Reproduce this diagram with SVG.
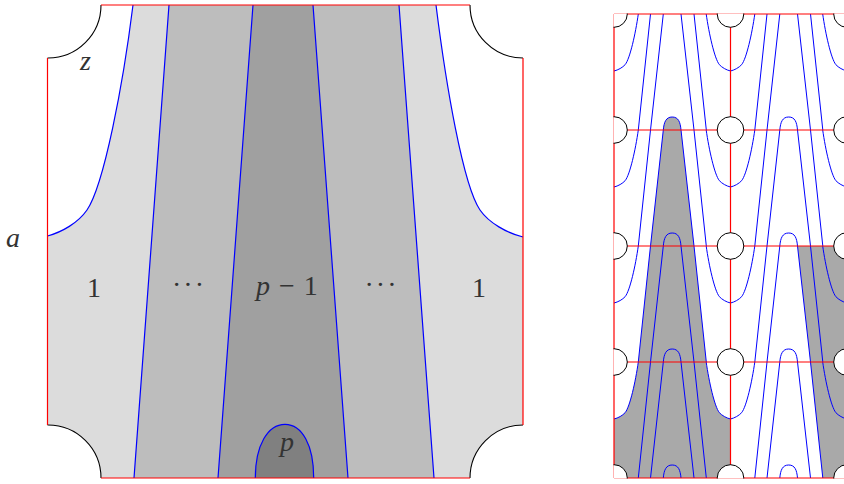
<svg xmlns="http://www.w3.org/2000/svg" xmlns:xlink="http://www.w3.org/1999/xlink" width="844" height="484" viewBox="0 0 844 484">
<style>
.r{fill:none;stroke:#ff0000;stroke-width:1.2}
.b{fill:none;stroke:#0000ff;stroke-width:1.2}
.k{fill:none;stroke:#000;stroke-width:1.1}
.t{font-family:"Liberation Serif",serif;font-size:28px;fill:#333}
.i{font-style:italic}
.c{fill:#fff;stroke:#000;stroke-width:1}
.s{fill:#a9a9a9}
.thin path{fill:none;stroke:#0000ff;stroke-width:1}
</style>
<defs>
<clipPath id="grid"><rect x="613.5" y="13.5" width="234" height="465"/></clipPath>
<g id="cell" class="thin">
<path d="M24.3 0C21.5 19.7 16 44.4 11.2 50.6C8.5 53.6 4.1 56 0 57"/>
<path d="M36.5 0L24.3 116M49.3 0L36.5 116M67 0L80 116M80 0L92.3 116"/>
<path d="M49.3 116C50 108 52 103 58.2 103S66.3 108 67 116"/>
<path d="M92.2 0C95 19.7 100.5 44.4 105.3 50.6C108 53.6 112.4 56 116.5 57"/>
</g>
</defs>
<g id="left-panel">
<path fill="#dcdcdc" d="M133 5C123 85 104 185 87 210C78 223 62 232 47.5 236L47.5 425A53 53 0 0 1 101 478L470 478A53 53 0 0 1 523 425L523 237C507 233 489 223 480 210C463 185 446 85 436 5Z"/>
<path fill="#bdbdbd" d="M169 5L399 5L434 478L134 478Z"/>
<path fill="#a0a0a0" d="M253 5L313 5L348 478L218 478Z"/>
<path fill="#808080" d="M255.3 478C255.3 445 268 424.3 285 424.3C302 424.3 313.7 445 313.7 478Z"/>
<path class="b" d="M133 5C123 85 104 185 87 210C78 223 62 232 47.5 236"/>
<path class="b" d="M436 5C446 85 463 185 480 210C489 223 507 233 523 237"/>
<path class="b" d="M169 5L134 478M253 5L218 478M313 5L348 478M399 5L434 478"/>
<path class="b" stroke-width="1.4" d="M255.3 478C255.3 445 268 424.3 285 424.3C302 424.3 313.7 445 313.7 478"/>
<path class="k" d="M101 5A53 53 0 0 1 47.5 58M470 5A53 53 0 0 0 523 58M47.5 425A53 53 0 0 1 101 478M470 478A53 53 0 0 1 523 425"/>
<path class="r" d="M101 5L470 5M47.5 58L47.5 425M523 58L523 425M101 478L470 478"/>
<text class="t i" x="80" y="70">z</text>
<text class="t i" x="6" y="246.5">a</text>
<text class="t" x="94" y="297" text-anchor="middle">1</text>
<text class="t" x="479" y="297" text-anchor="middle">1</text>
<text class="t" x="172" y="294" letter-spacing="2">···</text>
<text class="t" x="364.5" y="294" letter-spacing="2">···</text>
<text class="t" x="256" y="295" word-spacing="2"><tspan class="i">p</tspan> − 1</text>
<text class="t i" x="287" y="451" text-anchor="middle">p</text>
</g>
<g id="right-panel">
<path class="s" d="M663.3 130C664 122 666 117 672.2 117S680.3 122 681 130L694 246L706.3 362L638.3 362L650.5 246Z"/>
<path class="s" d="M638.3 362C635.5 381.7 630 406.4 625.2 412.6C622.5 415.6 618.1 418 614 419L614 478L730.5 478L730.5 419C726.4 418 722 415.6 719.3 412.6C714.5 406.4 709 381.7 706.2 362Z"/>
<path class="s" d="M797.5 246L847 246L847 478L822.8 478L810.5 362Z"/>
<use xlink:href="#cell" href="#cell" x="614" y="14"/>
<use xlink:href="#cell" href="#cell" x="614" y="130"/>
<use xlink:href="#cell" href="#cell" x="614" y="246"/>
<use xlink:href="#cell" href="#cell" x="614" y="362"/>
<use xlink:href="#cell" href="#cell" x="730.5" y="14"/>
<use xlink:href="#cell" href="#cell" x="730.5" y="130"/>
<use xlink:href="#cell" href="#cell" x="730.5" y="246"/>
<use xlink:href="#cell" href="#cell" x="730.5" y="362"/>
<path class="r" d="M614 14H847M614 130H847M614 246H847M614 362H847M614 478H847M614 14V478M730.5 14V478"/>
<g clip-path="url(#grid)">
<circle class="c" cx="614" cy="14" r="13.3"/><circle class="c" cx="730.5" cy="14" r="13.3"/><circle class="c" cx="847" cy="14" r="13.3"/>
<circle class="c" cx="614" cy="130" r="13.3"/><circle class="c" cx="730.5" cy="130" r="13.3"/><circle class="c" cx="847" cy="130" r="13.3"/>
<circle class="c" cx="614" cy="246" r="13.3"/><circle class="c" cx="730.5" cy="246" r="13.3"/><circle class="c" cx="847" cy="246" r="13.3"/>
<circle class="c" cx="614" cy="362" r="13.3"/><circle class="c" cx="730.5" cy="362" r="13.3"/><circle class="c" cx="847" cy="362" r="13.3"/>
<circle class="c" cx="614" cy="478" r="13.3"/><circle class="c" cx="730.5" cy="478" r="13.3"/><circle class="c" cx="847" cy="478" r="13.3"/>
</g>
</g>
</svg>
